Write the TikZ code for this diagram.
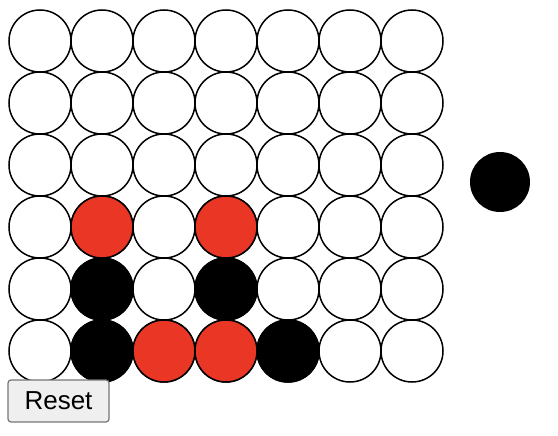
\documentclass[tikz,border=0pt]{standalone}
\usepackage{fontspec}
\newfontfamily\knopffont{Liberation Sans}
\usepackage{tikz}
\usetikzlibrary{positioning}
\definecolor{rot}{RGB}{234,54,36}
\definecolor{knopfgrau}{RGB}{239,239,239}
\definecolor{randgrau}{RGB}{118,118,118}

\begin{document}
\begin{tikzpicture}[
    x = 1pt, y = -1pt,
    loch/.style = {circle, draw, line width=1.5pt, minimum size=62pt, inner sep=0pt, fill=white},
    rotstein/.style = {loch, fill=rot},
    schwarzstein/.style = {loch, fill=black},
    knopf/.style = {rectangle, rounded corners=3pt, draw=randgrau, line width=1.2pt,
                    fill=knopfgrau, minimum width=101pt, minimum height=42pt, inner sep=0pt,
                    font=\knopffont\fontsize{26}{30}\selectfont}
    ]

  \useasboundingbox (0,0) rectangle (558,436) ;

  % board holes
  \foreach \r in {0,...,5} {
    \foreach \c in {0,...,6} {
      \node[loch] (h-\r-\c) at (40+62*\c, 41+62*\r) {} ;
    }
  }

  % pieces
  \node[rotstein] (p1) at (h-3-1) {} ;
  \node[rotstein] (p2) at (h-3-3) {} ;
  \node[schwarzstein] (p3) at (h-4-1) {} ;
  \node[schwarzstein] (p4) at (h-4-3) {} ;
  \node[schwarzstein] (p5) at (h-5-1) {} ;
  \node[rotstein] (p6) at (h-5-2) {} ;
  \node[rotstein] (p7) at (h-5-3) {} ;
  \node[schwarzstein] (p8) at (h-5-4) {} ;

  % next player
  \node[circle, fill=black, minimum size=60pt, inner sep=0pt] (next) at (500,182) {} ;

  \node[knopf] (reset) at (58.5,401) {Reset} ;

\end{tikzpicture}
\end{document}
